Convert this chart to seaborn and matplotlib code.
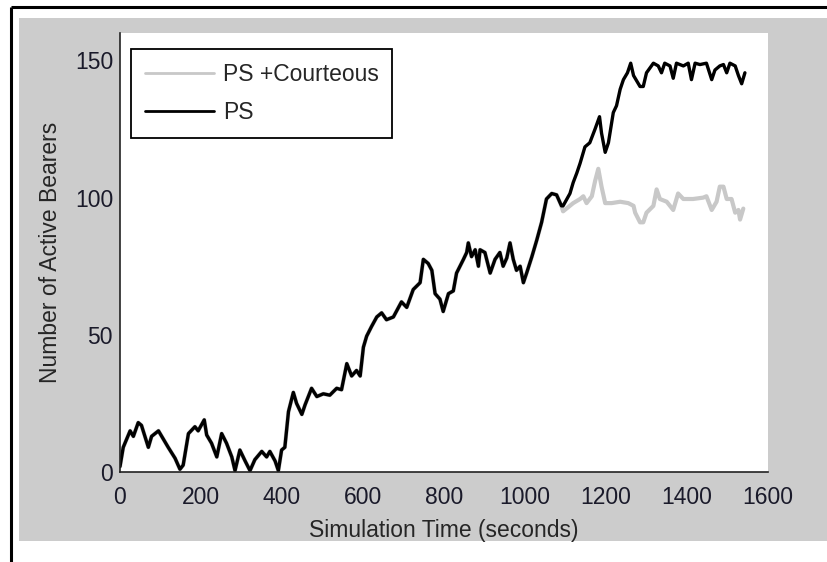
import matplotlib
matplotlib.use("Agg")
import matplotlib.pyplot as plt
from matplotlib.lines import Line2D
from matplotlib.patches import Rectangle
import pandas as pd
import seaborn as sns

# Common trace (both schemes behave identically until ~1090 s)
shared_time = [0, 8, 25, 33, 45, 53, 70, 78, 95, 107, 119, 136, 148, 156, 169, 185, 193,
               208, 214, 226, 239, 251, 263, 276, 284, 296, 309, 321, 333, 350, 362, 370,
               383, 391, 399, 407, 416, 428, 436, 449, 457, 473, 486, 502, 518, 535, 547,
               560, 572, 584, 593, 601, 609, 621, 634, 646, 658, 675, 695, 708, 724, 741,
               749, 761, 770, 778, 790, 798, 811, 823, 831, 848, 856, 860, 868, 877, 885,
               889, 901, 914, 926, 938, 946, 955, 963, 971, 979, 988, 996, 1004, 1017, 1029,
               1041, 1053, 1066, 1078, 1090]
shared_bearers = [2, 9, 15, 13, 18, 17, 9, 13, 15, 12, 9, 5, 1, 2.5, 14, 16.5, 15,
                  19, 13.5, 10.5, 5.5, 14, 10.5, 5.5, 0.5, 8, 4, 0.5, 4.5, 7.5, 5.5, 7.5,
                  4, 0.5, 8, 9, 22, 29, 25, 21, 24.5, 30.5, 27.5, 28.5, 28, 30.5, 30,
                  39.5, 35, 37, 35, 45.5, 49.5, 53, 56.5, 58, 55.5, 56.5, 62, 60, 66.5, 69,
                  77.5, 76, 73.5, 65, 63, 58.5, 65, 66, 72.5, 77.5, 80, 83.5, 78.5, 81, 75,
                  81, 80, 72.5, 77.5, 80, 75, 78, 83.5, 77.5, 73.5, 75, 69, 72.5, 78.5, 84.5,
                  91, 99.5, 101.5, 101, 97]

# PS after the split
ps_time = [1094, 1111, 1119, 1128, 1136, 1148, 1160, 1173, 1184, 1189, 1198, 1206, 1218,
           1226, 1235, 1243, 1253, 1261, 1268, 1284, 1292, 1300, 1317, 1329, 1337, 1345,
           1358, 1366, 1374, 1391, 1403, 1411, 1420, 1432, 1448, 1461, 1469, 1481, 1490,
           1498, 1506, 1519, 1527, 1535, 1543]
ps_bearers = [97, 101.5, 105.5, 109, 112.5, 118.5, 120, 125, 129.5, 123.5, 116.5, 120, 131,
              133.5, 139.5, 143, 145.5, 149, 144.5, 140.5, 140.5, 145.5, 149, 148, 145.5, 149,
              148, 143.5, 149, 148, 149, 143, 149, 148.5, 149, 143, 146.5, 148, 148.5,
              145.5, 149, 148, 144.5, 141.5, 145.5]

# PS +Courteous after the split
courteous_time = [1094, 1119, 1136, 1144, 1152, 1165, 1173, 1181, 1189, 1198, 1214, 1235,
                  1255, 1268, 1272, 1284, 1292, 1300, 1317, 1325, 1333, 1350, 1366, 1378,
                  1391, 1415, 1440, 1448, 1461, 1473, 1481, 1490, 1498, 1510, 1519, 1527,
                  1531, 1539]
courteous_bearers = [95, 98, 99.5, 100.5, 98, 100.5, 106, 110.5, 104, 98, 98, 98.5,
                     98, 97, 94.5, 91, 91, 94.5, 97, 103, 99.5, 98.5, 95.5, 101.5,
                     99.5, 99.5, 100, 100.5, 95.5, 98.5, 104, 104, 99.5, 99.5, 94.5, 95.5,
                     92, 96]

schemes = ["PS +Courteous", "PS"]
colors = {"PS +Courteous": "#c8c8c8", "PS": "#000000"}
x_ticks = [0, 200, 400, 600, 800, 1000, 1200, 1400, 1600]
y_ticks = [0, 50, 100, 150]

frames = [
    pd.DataFrame({"time": shared_time + courteous_time,
                  "bearers": shared_bearers + courteous_bearers,
                  "scheme": "PS +Courteous"}),
    pd.DataFrame({"time": shared_time + ps_time,
                  "bearers": shared_bearers + ps_bearers,
                  "scheme": "PS"}),
]
df = pd.concat(frames, ignore_index=True)

sns.set_style("white")
plt.rcParams["font.family"] = ["Liberation Sans", "DejaVu Sans"]
FS = 16.5
plt.rcParams["font.size"] = FS

W, H = 828, 562
fig = plt.figure(figsize=(W / 100, H / 100), dpi=100, facecolor="white")

# gray panel and outer frame
fig.add_artist(Rectangle((19 / W, 1 - 541 / H), 1 - 19 / W, (541 - 18) / H,
                         transform=fig.transFigure, facecolor="#cccccc",
                         edgecolor="none", zorder=0))
fig.add_artist(Line2D([11 / W, 1], [1 - 7 / H, 1 - 7 / H], transform=fig.transFigure,
                      color="black", lw=2.2, solid_capstyle="butt"))
fig.add_artist(Line2D([11 / W, 11 / W], [1 - 7 / H, 0], transform=fig.transFigure,
                      color="black", lw=2.2, solid_capstyle="butt"))

ax = fig.add_axes([120 / W, 1 - 472 / H, 648 / W, (472 - 33) / H])
ax.set_facecolor("white")

sns.lineplot(data=df, x="time", y="bearers", hue="scheme", hue_order=schemes,
             palette=colors, estimator=None, sort=False, linewidth=2.4, ax=ax)
ax.get_lines()[0].set_linewidth(3.0)

ax.set_xlim(0, 1600)
ax.set_ylim(0, 160)
ax.set_xticks(x_ticks)
ax.set_yticks(y_ticks)
ax.set_xlabel("Simulation Time (seconds)", fontsize=FS, labelpad=7)
ax.set_ylabel("Number of Active Bearers", fontsize=FS, labelpad=9)

for side in ("top", "right"):
    ax.spines[side].set_visible(False)
for side in ("left", "bottom"):
    ax.spines[side].set_color("#222222")
    ax.spines[side].set_linewidth(1.2)
ax.tick_params(axis="both", direction="in", length=5.5, width=1.1, color="#222222",
               labelsize=FS, labelcolor="#1a1a2a")
ax.tick_params(axis="x", pad=10)
ax.tick_params(axis="y", pad=5)

leg = ax.legend(handles=ax.get_lines()[:2], labels=schemes, loc="upper left",
                bbox_to_anchor=(0.017, 0.964), borderaxespad=0, fancybox=False,
                frameon=True, edgecolor="black", framealpha=1, fontsize=FS,
                handlelength=3.0, handletextpad=0.4, labelspacing=0.68,
                borderpad=0.6)
leg.get_frame().set_linewidth(1.3)
for line in leg.get_lines():
    line.set_linewidth(2.0)

fig.savefig("out.png", dpi=100, facecolor="white")
